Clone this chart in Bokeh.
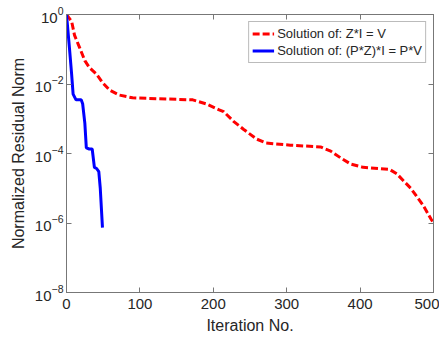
from bokeh.plotting import figure
from bokeh.models import (FixedTicker, LinearAxis, LogAxis, Legend, LegendItem,
                          LogTickFormatter, Range1d, CustomJSTickFormatter)
from bokeh.embed import file_html
from bokeh.resources import INLINE

# Data
red_iter = [0, 7, 11, 18, 25, 31, 41, 49, 59, 72, 90, 136, 172, 190, 208, 214, 228, 241,
            259, 272, 305, 346, 360, 373, 387, 404, 440, 450, 469, 486, 497, 500]
red_res = [1.0, 0.63, 0.25, 0.11, 0.047, 0.030, 0.019, 0.011, 6.6e-3, 4.8e-3, 4.0e-3,
           3.7e-3, 3.5e-3, 2.7e-3, 1.8e-3, 1.6e-3, 8.3e-4, 5.0e-4, 2.6e-4, 2.0e-4,
           1.74e-4, 1.55e-4, 1.17e-4, 7.6e-5, 5.0e-5, 4.0e-5, 3.5e-5, 2.6e-5, 1.0e-5,
           3.2e-6, 1.26e-6, 1.0e-6]
blue_iter = [0, 4, 7, 9, 13, 20, 22, 25, 27, 31, 35, 38, 41, 44, 46, 49]
blue_res = [1.0, 0.11, 0.019, 5.1e-3, 3.5e-3, 3.5e-3, 2.7e-3, 7.4e-4, 1.45e-4, 1.35e-4,
            1.35e-4, 4.0e-5, 3.7e-5, 3.0e-5, 1.0e-5, 7.4e-7]
x_ticks = [0, 100, 200, 300, 400, 500]
y_ticks = [1e-8, 1e-6, 1e-4, 1e-2, 1.0]
red_label = "Solution of: Z*I = V"
blue_label = "Solution of: (P*Z)*I = P*V"
x_title = "Iteration No."
y_title = "Normalized Residual Norm"

FONT = "Liberation Sans"
TXT = "#262626"
AX = "#777777"

p = figure(width=439, height=336, y_axis_type="log",
           x_range=Range1d(0, 500), y_range=Range1d(1e-8, 1.0),
           output_backend="svg", toolbar_location=None,
           min_border_left=66, min_border_right=6, min_border_top=14, min_border_bottom=39)
p.grid.visible = False
p.outline_line_color = AX
p.background_fill_color = "white"
p.border_fill_color = "white"

r_red = p.line(red_iter, red_res, line_color="#ff0000", line_width=3, line_dash="7 3")
r_blue = p.line(blue_iter, blue_res, line_color="#0000ff", line_width=3)

def style(ax):
    ax.axis_line_color = AX
    ax.major_tick_line_color = AX
    ax.major_tick_in = 5
    ax.major_tick_out = 0
    ax.minor_tick_line_color = None
    ax.major_label_text_font = FONT
    ax.major_label_text_color = TXT
    ax.major_label_text_font_size = "15px"
    ax.axis_label_text_font = FONT
    ax.axis_label_text_color = TXT
    ax.axis_label_text_font_style = "normal"
    ax.axis_label_text_font_size = "16px"

xa = p.xaxis[0]
xa.ticker = FixedTicker(ticks=x_ticks)
xa.axis_label = x_title
xa.major_label_standoff = 6
xa.axis_label_standoff = 5
style(xa)

ya = p.yaxis[0]
ya.ticker = FixedTicker(ticks=y_ticks)
ya.formatter = LogTickFormatter()
ya.axis_label = y_title
ya.major_label_standoff = 3
ya.axis_label_standoff = 5
style(ya)

blank = CustomJSTickFormatter(code="return '';")
top = LinearAxis(ticker=FixedTicker(ticks=x_ticks), formatter=blank, major_label_standoff=0)
style(top)
p.add_layout(top, "above")
right = LogAxis(ticker=FixedTicker(ticks=y_ticks), formatter=blank, major_label_standoff=0)
style(right)
p.add_layout(right, "right")

legend = Legend(items=[LegendItem(label=red_label, renderers=[r_red]),
                       LegendItem(label=blue_label, renderers=[r_blue])],
                location="top_right")
legend.label_text_font = FONT
legend.label_text_font_size = "13px"
legend.label_text_color = TXT
legend.border_line_color = AX
legend.border_line_width = 1
legend.margin = 7
legend.padding = 3
legend.spacing = 0
legend.glyph_width = 22
legend.glyph_height = 17
legend.label_height = 17
legend.label_standoff = 3
legend.background_fill_alpha = 1.0
p.add_layout(legend, "center")

open("out.html", "w").write(file_html(p, INLINE))
